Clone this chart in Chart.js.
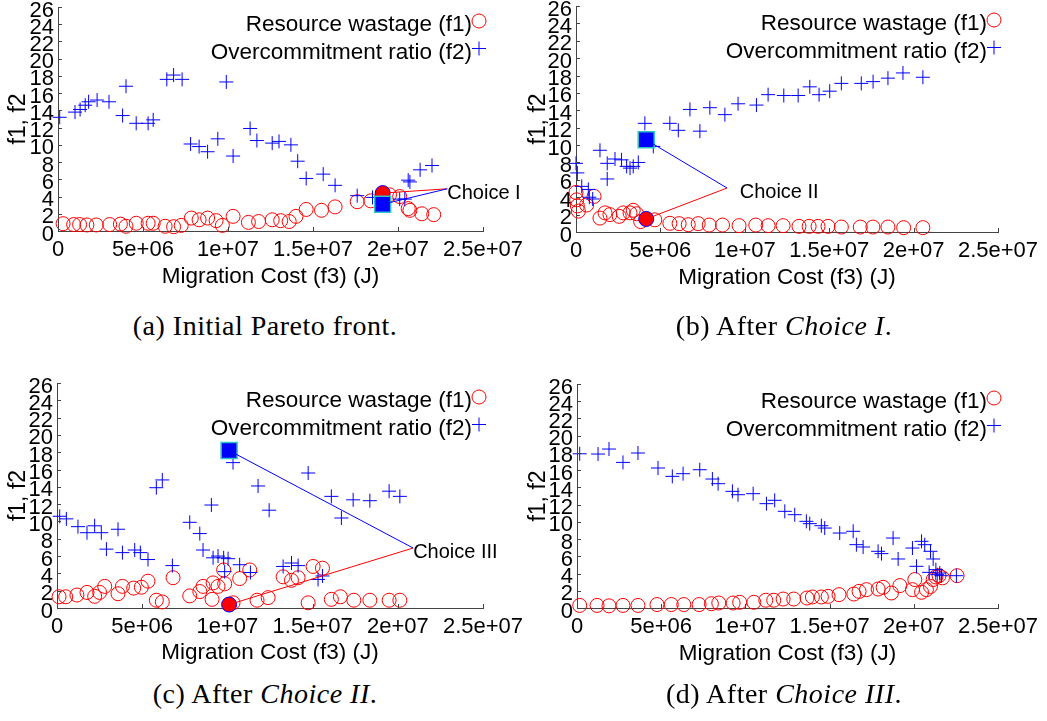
<!DOCTYPE html>
<html>
<head>
<meta charset="utf-8">
<script src="https://cdn.jsdelivr.net/npm/chart.js@4.4.0/dist/chart.umd.min.js"></script>
<style>
html,body{margin:0;padding:0;background:#fff;width:1047px;height:721px;overflow:hidden;position:relative}
.pane{position:absolute}
.cap{position:absolute;width:520px;text-align:center;font-family:"Liberation Serif","Times New Roman",serif;font-size:28px;line-height:31px;letter-spacing:0.5px;color:#000;white-space:nowrap}
</style>
</head>
<body>
<div class="pane" style="left:0;top:0"><canvas id="ca" width="530" height="300"></canvas></div>
<div class="pane" style="left:520px;top:0"><canvas id="cb" width="527" height="301"></canvas></div>
<div class="pane" style="left:0;top:376px"><canvas id="cc" width="530" height="300"></canvas></div>
<div class="pane" style="left:520px;top:377px"><canvas id="cd" width="527" height="300"></canvas></div>
<div class="cap" style="left:5px;top:310px">(a) Initial Pareto front.</div>
<div class="cap" style="left:524px;top:310px">(b) After <i>Choice I</i>.</div>
<div class="cap" style="left:5px;top:678px">(c) After <i>Choice II</i>.</div>
<div class="cap" style="left:524px;top:678px">(d) After <i>Choice III</i>.</div>
<script>
// ---------- data (migration cost in units of 1e6 J) ----------
const MJ = 1e6;
const X_TICKS = [0, 5e6, 1e7, 1.5e7, 2e7, 2.5e7];
const X_TICK_LABELS = ['0', '5e+06', '1e+07', '1.5e+07', '2e+07', '2.5e+07'];
const Y_TICKS = [0, 2, 4, 6, 8, 10, 12, 14, 16, 18, 20, 22, 24, 26];
const SERIES_LABELS = ['Resource wastage (f1)', 'Overcommitment ratio (f2)'];
const X_TITLE = 'Migration Cost (f3) (J)';
const Y_TITLE = 'f1, f2';

// (a) Initial Pareto front
const A_F1_X = [0.3,0.92,1.27,1.7,2.25,3.04,3.67,4.0,4.6,5.3,5.6,6.3,6.8,7.25,7.84,8.3,8.8,9.3,9.67,10.3,11.2,11.8,12.6,13.1,13.6,14.0,14.6,15.5,16.3,17.6,18.4,19.5,20.1,20.6,20.7,21.4,22.1];
const A_F1   = [0.85,0.75,0.75,0.7,0.7,0.75,0.8,0.55,0.9,0.9,0.9,0.55,0.5,0.65,1.5,1.3,1.5,1.2,0.65,1.7,1.0,1.1,1.3,1.2,1.1,1.7,2.5,2.4,2.8,3.4,3.5,4.2,4.0,2.6,2.4,2.0,1.9];
const A_F2_X = [0.1,1.0,1.3,1.6,1.8,2.3,3.0,3.8,4.0,4.6,5.3,5.6,6.4,6.8,7.3,7.8,8.3,8.8,9.4,9.9,10.3,11.3,11.7,12.6,13.0,13.7,14.1,14.6,15.6,16.3,17.6,18.5,20.1,20.4,20.6,20.7,21.3,22.0];
const A_F2   = [13.2,13.8,14.1,14.6,15.0,15.2,15.0,13.4,16.8,12.5,12.5,12.9,17.6,18.1,17.6,10.1,9.8,9.2,10.7,17.3,8.7,11.9,10.5,10.2,10.4,10.0,8.1,6.1,6.6,5.3,4.1,3.9,3.7,3.7,5.9,5.7,7.1,7.6];

// (b) After Choice I
const B_F1_X = [0,0.04,0.08,0.14,0.63,1.07,1.42,1.72,2.01,2.56,2.8,3.2,3.39,3.59,3.83,4.67,5.56,6.11,6.65,7.24,7.89,8.68,9.66,10.65,11.38,12.27,13.21,13.81,14.34,14.93,15.72,16.84,17.59,18.48,19.41,20.55];
const B_F1   = [4.56,3.7,3.0,2.4,3.1,4.1,1.6,2.2,2.0,1.8,2.2,2.2,2.5,2.1,1.2,1.4,1.0,0.96,0.84,0.96,0.8,0.8,0.73,0.8,0.73,0.73,0.65,0.65,0.65,0.65,0.57,0.57,0.57,0.57,0.5,0.5];
const B_F2_X = [0.0,0.08,0.34,0.73,0.79,0.99,1.42,1.85,1.85,2.31,2.7,3.0,3.2,3.39,3.69,4.08,4.58,5.56,6.06,6.75,7.34,7.93,8.82,9.6,10.69,11.38,12.31,13.16,13.85,14.4,15.03,15.72,16.9,17.6,18.48,19.37,20.55];
const B_F2   = [7.9,6.8,5.25,4.9,4.0,3.8,9.4,6.1,7.9,8.4,8.3,7.55,7.35,7.55,8.0,12.5,9.85,12.5,11.7,14.1,11.6,14.3,13.5,14.75,14.6,15.8,15.7,15.7,16.7,15.8,16.2,17.1,17.1,17.3,17.7,18.3,17.8];

// (c) After Choice II
const C_F1_X = [0.12,0.51,1.17,1.76,2.21,2.5,2.8,3.58,3.84,4.5,4.95,5.34,5.83,6.18,6.81,7.79,8.38,8.57,9.1,9.16,9.45,9.84,9.78,10.33,10.72,11.31,11.74,12.39,13.27,13.76,14.15,14.74,15.03,15.58,16.1,16.63,17.42,18.36,19.49,20.12];
const C_F1   = [1.3,1.3,1.5,1.8,1.35,1.8,2.5,1.65,2.5,2.3,2.4,3.1,0.9,0.7,3.5,1.4,1.9,2.5,1.0,2.9,2.5,2.8,4.4,0.6,3.4,4.4,0.9,1.2,3.6,3.2,3.5,0.6,4.8,4.6,1.0,1.3,0.9,0.9,0.9,0.9];
const C_F2_X = [0.16,0.55,1.23,1.76,2.21,2.6,2.9,3.58,3.84,4.56,4.89,5.34,5.83,6.18,6.77,7.79,8.38,8.57,9.06,9.16,9.45,9.78,9.84,10.04,10.33,10.72,11.35,11.8,12.45,13.27,13.76,14.15,14.74,15.32,15.58,16.1,16.69,17.38,18.36,19.49,20.12];
const C_F2   = [10.6,10.3,9.4,8.7,9.5,8.7,6.8,9.1,6.4,6.7,6.4,5.6,13.9,14.8,4.9,9.9,8.6,6.7,11.9,5.8,6.0,5.8,4.2,5.7,16.8,5.0,4.1,14.1,11.3,4.8,5.2,4.9,15.6,3.3,3.7,12.9,10.4,12.5,12.4,13.5,12.9];

// (d) After Choice III
const D_F1_X = [0.16,1.19,1.9,2.73,3.62,4.75,5.6,6.34,7.25,7.98,8.42,9.27,9.66,10.5,11.21,11.68,12.24,12.87,13.66,13.98,14.51,14.91,15.56,16.44,16.75,17.19,17.88,18.18,18.67,19.17,19.92,20.06,20.46,20.75,20.99,21.15,21.31,21.5,21.7,22.57];
const D_F1   = [0.3,0.3,0.25,0.3,0.3,0.4,0.4,0.4,0.4,0.5,0.58,0.58,0.66,0.66,0.9,0.9,1.04,1.04,1.16,1.28,1.28,1.35,1.55,1.62,1.93,2.13,2.2,2.4,1.74,2.6,2.13,3.3,1.82,2.13,2.5,3.3,3.6,3.75,3.5,3.75];
const D_F2_X = [0.16,1.25,1.9,2.73,3.62,4.81,5.66,6.3,7.29,8.04,8.38,9.23,9.56,10.46,11.25,11.74,12.34,12.93,13.62,13.82,14.51,14.71,15.6,16.4,16.59,16.99,17.88,18.08,18.77,19.07,19.92,20.16,20.46,20.65,20.91,20.99,21.15,21.31,21.39,21.54,21.64,22.53];
const D_F2   = [17.9,17.87,18.45,16.9,17.99,16.25,15.28,15.59,16.05,14.97,14.43,13.54,13.15,13.27,12.11,12.5,11.22,10.83,10.06,9.79,9.55,9.28,8.7,8.9,7.35,7.08,6.58,6.31,8.12,5.69,6.96,4.84,7.74,7.35,4.14,6.58,5.69,4.45,3.87,4.06,3.75,3.75];

// chosen solutions: f3 (1e6 J), f1, f2; label tip (f3, value); label text start f3
const CHOICE_NAMES = ['Choice I', 'Choice II', 'Choice III'];
const CHOICE_F3    = [19.1, 4.16, 10.1];
const CHOICE_F1    = [4.4, 1.5, 0.4];
const CHOICE_F2    = [3.1, 10.6, 18.2];
const CHOICE_TIP_F3 = [22.9, 8.95, 20.9];
const CHOICE_TIP_Y  = [4.9, 5.06, 6.93];
const CHOICE_TEXT_F3 = [22.9, 9.7, 20.9];

// ---------- styling ----------
const FONT = '"Liberation Sans", Arial, Helvetica, sans-serif';
const RED = '#ff0000', BLUE = '#0000ff', CYAN = '#2ec4c4', AXIS = '#444444';

const PANELS = [
  {id:'ca', w:530, h:300, aL:58, aT:7, aR:483, aB:231, f1x:A_F1_X, f1:A_F1, f2x:A_F2_X, f2:A_F2, choice:0},
  {id:'cb', w:527, h:301, aL:56, aT:6, aR:478, aB:232, f1x:B_F1_X, f1:B_F1, f2x:B_F2_X, f2:B_F2, choice:1},
  {id:'cc', w:530, h:300, aL:57, aT:7, aR:483, aB:232, f1x:C_F1_X, f1:C_F1, f2x:C_F2_X, f2:C_F2, choice:2},
  {id:'cd', w:527, h:300, aL:57, aT:7, aR:478, aB:231, f1x:D_F1_X, f1:D_F1, f2x:D_F2_X, f2:D_F2, choice:null}
];

const toPts = (xs, ys) => xs.map((x, i) => ({x: x * MJ, y: ys[i]}));

const insideTicks = {
  id: 'insideTicks',
  afterDraw(chart) {
    const {ctx, chartArea: a, scales: {x, y}} = chart;
    ctx.save();
    ctx.strokeStyle = AXIS; ctx.lineWidth = 1;
    ctx.beginPath();
    x.ticks.forEach(t => { const px = Math.round(x.getPixelForValue(t.value)) + 0.5; ctx.moveTo(px, a.bottom); ctx.lineTo(px, a.bottom - 4); });
    y.ticks.forEach(t => { const py = Math.round(y.getPixelForValue(t.value)) + 0.5; ctx.moveTo(a.left, py); ctx.lineTo(a.left + 4, py); });
    ctx.stroke();
    ctx.restore();
  }
};

const insideLegend = {
  id: 'insideLegend',
  afterDraw(chart) {
    const {ctx, chartArea: a} = chart;
    const items = chart.data.datasets.filter(d => d.inLegend);
    ctx.save();
    items.forEach((d, row) => {
      const ty = a.top + 18 + 27.5 * row;
      ctx.font = '22.5px ' + FONT;
      ctx.fillStyle = '#000';
      ctx.textAlign = 'right';
      ctx.textBaseline = 'middle';
      ctx.fillText(d.label, a.right - 11, ty);
      ctx.strokeStyle = d.borderColor;
      ctx.fillStyle = 'rgba(0,0,0,0)';
      ctx.lineWidth = 1;
      Chart.helpers.drawPoint(ctx, {pointStyle: d.pointStyle, radius: 7, borderWidth: 1, rotation: 0}, a.right - 4, ty - 4);
    });
    ctx.restore();
  }
};

const choiceLabel = {
  id: 'choiceLabel',
  afterDraw(chart, args, opts) {
    if (opts.index === null || opts.index === undefined) return;
    const {ctx, scales: {x, y}} = chart;
    const i = opts.index;
    ctx.save();
    ctx.font = '20px ' + FONT;
    ctx.fillStyle = '#000';
    ctx.textAlign = 'left';
    ctx.textBaseline = 'middle';
    ctx.fillText(CHOICE_NAMES[i], x.getPixelForValue(CHOICE_TEXT_F3[i] * MJ), y.getPixelForValue(CHOICE_TIP_Y[i]) + 4.5);
    ctx.restore();
  }
};

PANELS.forEach(p => {
  const datasets = [
    {label: SERIES_LABELS[0], inLegend: true, data: toPts(p.f1x, p.f1), pointStyle: 'circle', pointRadius: 7,
     borderColor: RED, backgroundColor: 'rgba(0,0,0,0)', borderWidth: 1, order: 5},
    {label: SERIES_LABELS[1], inLegend: true, data: toPts(p.f2x, p.f2), pointStyle: 'cross', pointRadius: 7,
     borderColor: BLUE, backgroundColor: BLUE, borderWidth: 1, order: 4}
  ];
  if (p.choice !== null) {
    const c = p.choice;
    const cx = CHOICE_F3[c] * MJ, tx = CHOICE_TIP_F3[c] * MJ, ty = CHOICE_TIP_Y[c];
    datasets.push(
      {label: CHOICE_NAMES[c] + ' f1', data: [{x: cx, y: CHOICE_F1[c]}], pointStyle: 'circle', pointRadius: 7.5,
       borderColor: BLUE, backgroundColor: RED, borderWidth: 1, order: 3},
      {label: CHOICE_NAMES[c] + ' f2', data: [{x: cx, y: CHOICE_F2[c]}], pointStyle: 'rect', pointRadius: 11.3,
       borderColor: CYAN, backgroundColor: BLUE, borderWidth: 1.5, order: 2},
      {type: 'line', label: CHOICE_NAMES[c] + ' link f1', data: [{x: cx, y: CHOICE_F1[c]}, {x: tx, y: ty}],
       borderColor: RED, borderWidth: 1, pointRadius: 0, fill: false, order: 1},
      {type: 'line', label: CHOICE_NAMES[c] + ' link f2', data: [{x: cx, y: CHOICE_F2[c]}, {x: tx, y: ty}],
       borderColor: BLUE, borderWidth: 1, pointRadius: 0, fill: false, order: 0}
    );
  }
  new Chart(document.getElementById(p.id), {
    type: 'scatter',
    data: {datasets},
    plugins: [insideTicks, insideLegend, choiceLabel],
    options: {
      responsive: false,
      animation: false,
      events: [],
      clip: false,
      layout: {autoPadding: false, padding: {left: 0, top: p.aT, right: p.w - p.aR, bottom: 0}},
      plugins: {legend: {display: false}, tooltip: {enabled: false}, choiceLabel: {index: p.choice}},
      scales: {
        x: {
          type: 'linear', min: 0, max: 2.5e7,
          grid: {display: false, drawTicks: false},
          border: {display: true, color: AXIS, width: 1},
          afterBuildTicks: s => { s.ticks = X_TICKS.map(v => ({value: v})); },
          afterFit: s => { s.height = p.h - p.aB; s.paddingLeft = 0; s.paddingRight = 0; s.paddingTop = 0; s.paddingBottom = 0; },
          ticks: {autoSkip: false, maxRotation: 0, minRotation: 0, padding: 5.5, color: '#000',
                  font: {family: FONT, size: 22}, callback: v => X_TICK_LABELS[X_TICKS.indexOf(v)]},
          title: {display: true, text: X_TITLE, color: '#000', font: {family: FONT, size: 22.5}, padding: {top: 0, bottom: 9.5}}
        },
        y: {
          type: 'linear', min: 0, max: 26,
          grid: {display: false, drawTicks: false},
          border: {display: true, color: AXIS, width: 1},
          afterBuildTicks: s => { s.ticks = Y_TICKS.map(v => ({value: v})); },
          afterFit: s => { s.width = p.aL; s.paddingLeft = 0; s.paddingRight = 0; s.paddingTop = 0; s.paddingBottom = 0; },
          ticks: {autoSkip: false, padding: 4, labelOffset: 3.5, color: '#000',
                  font: {family: FONT, size: 22}, callback: v => String(v)},
          title: {display: true, text: Y_TITLE, color: '#000', font: {family: FONT, size: 23}, padding: {top: 4.7, bottom: 0}}
        }
      }
    }
  });
});
</script>
</body>
</html>
